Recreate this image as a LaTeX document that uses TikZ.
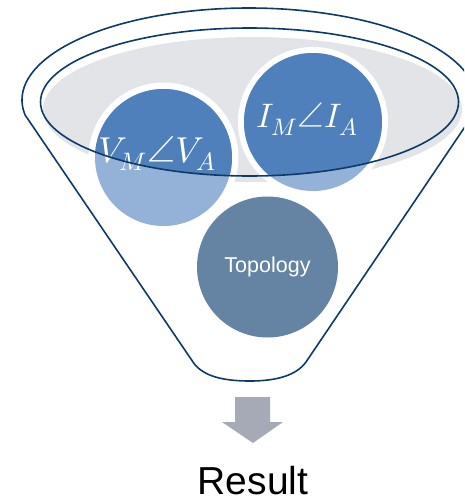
\documentclass[tikz,border=0pt]{standalone}
\usepackage{fontspec}
\usepackage{unicode-math}
\setmainfont{Liberation Sans}
\setmathfont{Latin Modern Math}
\begin{document}
\begin{tikzpicture}[x=1pt,y=-1pt,
  navy/.style={draw=navyline,line width=1.6pt},
  ring/.style={fill=white},
  lightc/.style={fill=lightblue},
  darkc/.style={fill=darkblue},
  mathlbl/.style={text=white,font=\fontsize{36}{36}\selectfont,inner sep=0pt,anchor=base},
  ]
\definecolor{navyline}{HTML}{0E3A6A}
\definecolor{lightblue}{HTML}{94B1D7}
\definecolor{darkblue}{HTML}{4F80BC}
\definecolor{slate}{HTML}{6583A2}
\definecolor{pale}{HTML}{E3E4E8}
\definecolor{arrowgray}{HTML}{A6A9B6}
\useasboundingbox (0,0) rectangle (464,501);
\clip (0,0) rectangle (464,501);
% outer funnel
\draw[navy,fill=white,line join=round] (249,100) ++(170.7:227 and 92) coordinate (cl)
  arc[start angle=170.7,end angle=369.3,x radius=227,y radius=92] coordinate (cr)
  -- (306,362) .. controls (296,376) and (275,381) .. (250,381)
  .. controls (225,381) and (203,377) .. (193,362) -- cycle;
% gray basin
\fill[pale] (252.5,109.5) ellipse[x radius=209.5,y radius=72.5];
% white rings
\fill[ring] (163.5,157.5) circle[radius=75];
\fill[ring] (313,122) circle[radius=75];
% light circles
\fill[lightc] (163.5,157.5) circle[radius=68.5];
\fill[lightc] (313,122) circle[radius=69];
% dark parts inside basin
\begin{scope}
\clip (249.5,102) ellipse[x radius=209,y radius=74];
\fill[darkc] (163.5,157.5) circle[radius=68.5];
\fill[darkc] (313,122) circle[radius=69];
\end{scope}
\node[mathlbl] (v) at (157,162) {$V_M\angle V_A$};
\node[mathlbl,font=\fontsize{34}{34}\selectfont] (i) at (307,127) {$I_M\angle I_A$};
% inner rim
\draw[navy] (249.5,102) ellipse[x radius=209,y radius=74];
% topology
\node[circle,fill=slate,minimum size=141pt,inner sep=0pt,text=white,
  font=\fontsize{21.5}{21.5}\selectfont] (topo) at (267.5,267) {Topology};
% arrow
\fill[arrowgray] (235,397) -- (270,397) -- (270,422) -- (283,422) -- (253,443)
  -- (222,422) -- (235,422) -- cycle;
\node[font=\fontsize{39}{39}\selectfont,inner sep=0pt,anchor=base] (res) at (253,494) {Result};
\end{tikzpicture}
\end{document}
